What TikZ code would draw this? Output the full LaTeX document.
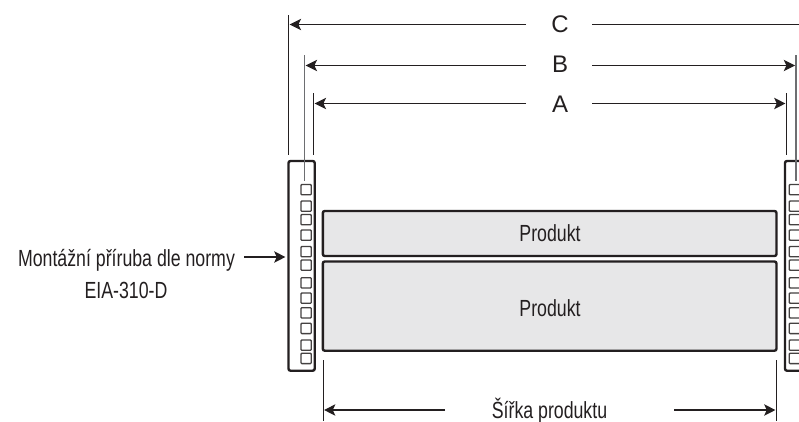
\documentclass[tikz,border=0pt]{standalone}
\usepackage{fontspec}
\setmainfont{Liberation Sans}
\newfontfamily\narrowfont[FakeStretch=0.76]{Liberation Sans}
\usetikzlibrary{arrows.meta}
\definecolor{ink}{HTML}{231F20}
\definecolor{panel}{HTML}{E7E7E8}
\definecolor{extgray}{HTML}{6D6E71}
\tikzset{
  x=0.75pt,y=-0.75pt,
  dimline/.style={draw=ink,line width=0.9pt,-{Stealth[length=8.5pt,width=8.5pt,inset=2pt]},shorten >=0.4pt},
  extline/.style={draw=ink,line width=0.75pt},
  extgrayline/.style={draw=extgray,line width=1.1pt},
  flange/.style={draw=ink,line width=1.8pt,rounded corners=1.5pt,fill=white},
  hole/.style={draw=ink!85,line width=1pt,rounded corners=0.6pt,fill=white},
  productbox/.style={draw=ink,line width=1.8pt,rounded corners=1.5pt,fill=panel},
  letterlabel/.style={anchor=base,inner sep=0pt,text=ink,font=\fontsize{18}{20}\selectfont},
  narrowlabel/.style={anchor=base,inner sep=0pt,text=ink,font=\narrowfont\fontsize{17.5}{20}\selectfont},
}
\begin{document}
\begin{tikzpicture}
\useasboundingbox (0,0) rectangle (799,421);
\begin{scope}
\clip (0,0) rectangle (799,421);
% flanges
\draw[flange] (288.5,161) rectangle (314.7,370.7);
\draw[flange] (785,161) rectangle (815,370.7);
\foreach \t in {184.5,201,214.5,230,246.5,260,277.7,293,307.7,323.3,340,353.3}{
  \draw[hole] (301,\t) rectangle (311.2,\t+10.3);
  \draw[hole] (789.3,\t) rectangle (800,\t+10.3);
}
% products
\draw[productbox] (322.8,211) rectangle (776.5,256);
\draw[productbox] (322.8,261.5) rectangle (776.5,350.7);
% extension coordinates
\coordinate (Cl0) at (288.7,15);   \coordinate (Cl1) at (288.7,155);
\coordinate (Bl0) at (304.7,55);   \coordinate (Bl1) at (304.7,181);
\coordinate (Br0) at (796,55);     \coordinate (Br1) at (796,181);
\coordinate (Al0) at (313.7,93);   \coordinate (Al1) at (313.7,155);
\coordinate (Ar0) at (786.5,93);   \coordinate (Ar1) at (786.5,155);
\coordinate (Sl0) at (323,360);    \coordinate (Sl1) at (323,421);
\coordinate (Sr0) at (776.5,360);  \coordinate (Sr1) at (776.5,421);
\draw[extline] (Cl0) -- (Cl1);
\draw[extgrayline] (Bl0) -- (Bl1);
\draw[extgrayline] (Br0) -- (Br1);
\draw[extline] (Al0) -- (Al1);
\draw[extline] (Ar0) -- (Ar1);
\draw[extline] (Sl0) -- (Sl1);
\draw[extline] (Sr0) -- (Sr1);
% labels
\node[letterlabel] (C) at (560,32) {C};
\node[letterlabel] (B) at (560,72) {B};
\node[letterlabel] (A) at (560,112) {A};
\node[narrowlabel] (P1) at (550,241) {Produkt};
\node[narrowlabel] (P2) at (550,316.7) {Produkt};
\node[narrowlabel] (S) at (549.5,418) {Šířka produktu};
\node[narrowlabel] (M1) at (126.5,266.7) {Montážní příruba dle normy};
\node[narrowlabel] (M2) at (126,298) {EIA-310-D};
% dimension lines
\coordinate (CL) at (289.2,24.5); \coordinate (CR) at (810,24.5);
\coordinate (BL) at (305.2,65.5);   \coordinate (BR) at (795.6,65.5);
\coordinate (AL) at (314.2,103.5);\coordinate (AR) at (786,103.5);
\coordinate (SL) at (323.5,410);  \coordinate (SR) at (776,410);
\coordinate (CgL) at (526,24.5);  \coordinate (CgR) at (592,24.5);
\coordinate (BgL) at (526,65.5);    \coordinate (BgR) at (592,65.5);
\coordinate (AgL) at (526,103.5); \coordinate (AgR) at (592,103.5);
\coordinate (SgL) at (445,410);   \coordinate (SgR) at (674,410);
\draw[dimline] (CgL) -- (CL);
\draw[draw=ink,line width=0.9pt] (CgR) -- (CR);
\draw[dimline] (BgL) -- (BL);
\draw[dimline] (BgR) -- (BR);
\draw[dimline] (AgL) -- (AL);
\draw[dimline] (AgR) -- (AR);
\draw[dimline] (SgL) -- (SL);
\draw[dimline] (SgR) -- (SR);
\coordinate (Mfrom) at (244,257);
\coordinate (Mto) at (286,257);
\draw[dimline] (Mfrom) -- (Mto);
\end{scope}
\end{tikzpicture}
\end{document}
